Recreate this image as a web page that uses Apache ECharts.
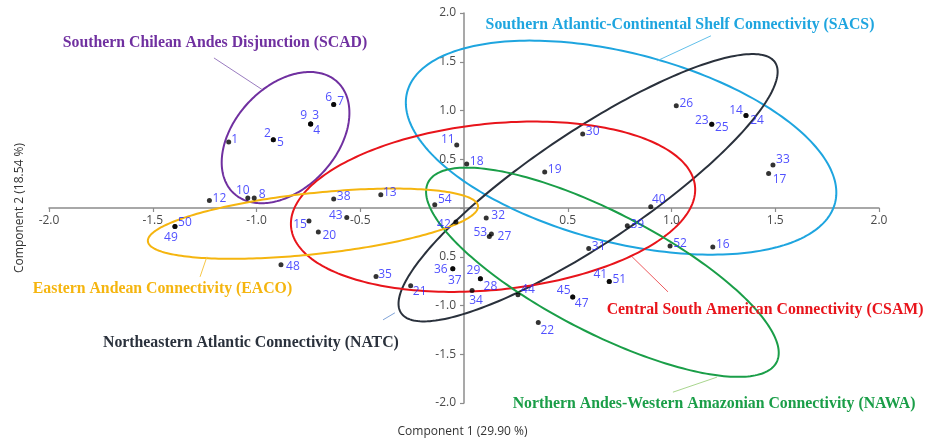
<!DOCTYPE html>
<html>
<head>
<meta charset="utf-8">
<script src="https://cdn.jsdelivr.net/npm/echarts@6/dist/echarts.min.js"></script>
<style>
  html, body { margin: 0; padding: 0; background: #fff; }
  #chart { width: 925px; height: 441px; }
</style>
</head>
<body>
<div id="chart"></div>
<script>
// Site scores on the first two principal components
const siteLabels = ['1','2','3','4','5','6','7','8','9','10','11','12','13','14','15','16','17','18','19','20',
  '21','22','23','24','25','26','27','28','29','30','31','32','33','34','35','36','37','38','39','40',
  '41','42','43','44','45','47','48','49','50','51','52','53','54'];
const comp1 = [-1.134,-0.919,-0.739,-0.739,-0.919,-0.628,-0.628,-1.011,-0.739,-1.042,-0.035,-1.227,-0.401,1.359,-0.747,1.199,1.468,0.013,0.389,-0.702,
  -0.257,0.358,1.194,1.359,1.194,1.023,0.132,0.079,0.079,0.572,0.601,0.107,1.489,0.039,-0.424,-0.054,-0.054,-0.628,0.787,0.900,
  0.700,-0.039,-0.565,0.260,0.524,0.524,-0.882,-1.393,-1.393,0.700,0.993,0.122,-0.141];
const comp2 = [0.678,0.701,0.862,0.862,0.701,1.061,1.061,0.103,0.862,0.103,0.647,0.078,0.137,0.948,-0.133,-0.400,0.355,0.452,0.370,-0.246,
  -0.798,-1.175,0.858,0.948,0.858,1.050,-0.267,-0.726,-0.726,0.760,-0.415,-0.103,0.441,-0.846,-0.702,-0.623,-0.623,0.092,-0.182,0.013,
  -0.754,-0.144,-0.097,-0.890,-0.914,-0.914,-0.582,-0.189,-0.189,-0.754,-0.390,-0.292,0.034];

// Axis tick labels, from min to max in steps of 0.5
const xTickLabels = ['-2.0','-1.5','-1.0','-0.5','','0.5','1.0','1.5','2.0'];
const yTickLabels = ['-2.0','-1.5','-1.0','0.5','','0.5','1.0','1.5','2.0'];

// Connectivity groups
const groupKeys = ['SCAD','SACS','NATC','CSAM','NAWA','EACO'];
const groupNames = [
  'Southern Chilean Andes Disjunction (SCAD)',
  'Southern Atlantic-Continental Shelf Connectivity (SACS)',
  'Northeastern Atlantic Connectivity (NATC)',
  'Central South American Connectivity (CSAM)',
  'Northern Andes-Western Amazonian Connectivity (NAWA)',
  'Eastern Andean Connectivity (EACO)'
];
// Group ellipses in component units: centre and two conjugate semi-diameters
const ellipseCentres = [[-0.860,0.722],[0.757,0.619],[0.598,0.208],[0.140,0.013],[0.667,-0.659],[-0.728,-0.161]];
const ellipseU = [[0.2498,0.5704],[1.0311,-0.5681],[0.9011,1.2851],[0.9733,0.2107],[0.8394,-0.9229],[0.7954,0.1812]];
const ellipseV = [[-0.1797,0.3571],[0.1140,0.9393],[-0.1501,0.4778],[-0.0404,0.8478],[0.1326,0.5474],[-0.0156,0.3114]];

// ---- layout and styling ----
const groupColors = { SCAD:'#7030a0', SACS:'#1ea5df', NATC:'#2a313c', CSAM:'#e8141b', NAWA:'#1a9e48', EACO:'#f5b50f' };
const leaderColors = { SCAD:'#9a7cc0', SACS:'#62c0ea', NATC:'#7fa3d8', CSAM:'#ee5a5e', NAWA:'#a9d68e', EACO:'#f7c748' };
// where each group name sits and its leader line, in component units
const noteLayout = {
  SCAD: { at:[-1.200, 1.697], from:[-1.205, 1.539], to:[-0.973, 1.215] },
  SACS: { at:[ 1.041, 1.882], from:[ 1.190, 1.766], to:[ 0.930, 1.509] },
  NATC: { at:[-1.027,-1.383], from:[-0.390,-1.147], to:[-0.333,-1.075] },
  CSAM: { at:[ 1.451,-1.044], from:[ 0.810,-0.500], to:[ 0.983,-0.860] },
  NAWA: { at:[ 1.205,-2.009], from:[ 1.007,-1.889], to:[ 1.219,-1.735] },
  EACO: { at:[-1.453,-0.829], from:[-1.239,-0.500], to:[-1.272,-0.706] }
};
// pixel nudges of each site number relative to its dot
const labelNudge = {
  '1':[6,-2],'2':[-6,-6],'3':[5,-8],'4':[6,7],'5':[7,3],'6':[-5,-7],'7':[7,-3],'8':[8,-3],'9':[-7,-8],'10':[-5,-7],
  '11':[-9,-5],'12':[10,-2],'13':[9,-2],'14':[-10,-5],'15':[-9,4],'16':[10,-2],'17':[11,6],'18':[10,-2],'19':[10,-2],'20':[11,4],
  '21':[9,6],'22':[9,8],'23':[-10,-4],'24':[11,5],'25':[10,3],'26':[10,-2],'27':[13,3],'28':[10,8],'29':[-7,-8],'30':[10,-2],
  '31':[10,-2],'32':[12,-2],'33':[10,-5],'34':[4,10],'35':[9,-2],'36':[-12,1],'37':[2,12],'38':[10,-2],'39':[10,-1],'40':[8,-7],
  '41':[-9,-7],'42':[-12,3],'43':[-11,-2],'44':[10,-5],'45':[-9,-7],'47':[9,6],'48':[12,2],'49':[-4,11],'50':[10,-4],'51':[10,-2],
  '52':[10,-2],'53':[-9,-4],'54':[10,-5]
};

const AXIS_GREY = '#8c8c8c';
const TICK_TEXT = '#4a4a4a';
const SANS = '"Open Sans", "Noto Sans", sans-serif';
const SERIF = '"Liberation Serif", "DejaVu Serif", serif';
const GRID = { left: 49, right: 46, top: 13, bottom: 38 };

const sitePoints = siteLabels.map((lab, i) => ({ name: lab, value: [comp1[i], comp2[i]] }));

const chart = echarts.init(document.getElementById('chart'), null, { renderer: 'canvas' });

function axisBase(labels, margin) {
  return {
    type: 'value', min: -2, max: 2, interval: 0.5,
    axisLine: { onZero: false, lineStyle: { color: AXIS_GREY, width: 1.5 } },
    axisTick: { show: true, length: 4, lineStyle: { color: AXIS_GREY, width: 1.2 } },
    axisLabel: {
      color: TICK_TEXT, fontFamily: SANS, fontSize: 12, margin: margin,
      formatter: v => labels[Math.round((v + 2) / 0.5)] ?? ''
    },
    splitLine: { show: false }
  };
}

chart.setOption({
  backgroundColor: '#ffffff',
  animation: false,
  grid: Object.assign({ containLabel: false }, GRID),
  xAxis: axisBase(xTickLabels, 7),
  yAxis: axisBase(yTickLabels, 8),
  graphic: [
    { type: 'text', left: 'center', top: 426,
      style: { text: 'Component 1 (29.90 %)', fill: '#333', font: '12px ' + SANS } },
    { type: 'text', x: 20, y: 208, rotation: Math.PI / 2, originX: 0, originY: 0,
      style: { text: 'Component 2 (18.54 %)', fill: '#333', font: '12px ' + SANS,
               align: 'center', textAlign: 'center', verticalAlign: 'middle', textVerticalAlign: 'middle' } }
  ],
  series: [
    {
      // group ellipses
      type: 'custom',
      silent: true,
      z: 2,
      data: ellipseCentres.map(c => c.slice()),
      renderItem: (params, api) => {
        const i = params.dataIndex;
        const c = ellipseCentres[i], u = ellipseU[i], v = ellipseV[i];
        const pts = [];
        const N = 240;
        for (let k = 0; k < N; k++) {
          const t = k / N * Math.PI * 2;
          const ct = Math.cos(t), st = Math.sin(t);
          pts.push(api.coord([c[0] + u[0] * ct + v[0] * st, c[1] + u[1] * ct + v[1] * st]));
        }
        return {
          type: 'polygon',
          shape: { points: pts },
          style: { fill: 'none', stroke: groupColors[groupKeys[i]], lineWidth: 2 }
        };
      }
    },
    {
      // group names with leader lines
      type: 'custom',
      silent: true,
      z: 3,
      data: groupKeys.map(k => noteLayout[k].at.slice()),
      renderItem: (params, api) => {
        const key = groupKeys[params.dataIndex];
        const lay = noteLayout[key];
        const a = api.coord(lay.from), b = api.coord(lay.to), p = api.coord(lay.at);
        return {
          type: 'group',
          children: [
            { type: 'line', shape: { x1: a[0], y1: a[1], x2: b[0], y2: b[1] },
              style: { stroke: leaderColors[key], lineWidth: 1 } },
            { type: 'text', x: p[0], y: p[1],
              style: { text: groupNames[params.dataIndex], fill: groupColors[key],
                       font: 'bold 15.8px ' + SERIF,
                       align: 'center', textAlign: 'center', verticalAlign: 'middle', textVerticalAlign: 'middle' } }
          ]
        };
      }
    },
    {
      // sites
      type: 'scatter',
      z: 5,
      symbol: 'circle',
      symbolSize: 5,
      itemStyle: { color: '#000' },
      label: {
        show: true, position: 'inside', color: '#2424ff', formatter: '{b}',
        textBorderWidth: 0, textBorderColor: 'transparent',
        fontFamily: SANS, fontSize: 12, align: 'center', verticalAlign: 'middle'
      },
      labelLayout: params => {
        const d = labelNudge[siteLabels[params.dataIndex]] || [10, -2];
        return { dx: d[0], dy: d[1], hideOverlap: false };
      },
      data: sitePoints
    }
  ]
});

// Let both axes cross at the origin, carrying their ticks and labels with them
const origin = chart.convertToPixel({ gridIndex: 0 }, [0, 0]);
const h = chart.getHeight();
chart.setOption({
  xAxis: { offset: -((h - GRID.bottom) - origin[1]) },
  yAxis: { offset: -(origin[0] - GRID.left) }
});
</script>
</body>
</html>
